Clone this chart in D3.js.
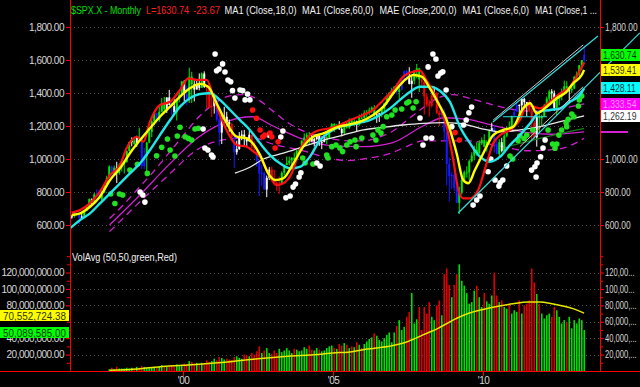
<!DOCTYPE html>
<html>
<head>
<meta charset="utf-8">
<script src="https://cdn.jsdelivr.net/npm/d3@7/dist/d3.min.js"></script>
<style>
  body { margin: 0; background: #000; }
  svg { display: block; font-family: "Liberation Sans", Arial, sans-serif; }
</style>
</head>
<body>
<div id="chart"></div>
<script>
// ---- data (monthly $SPX.X, Apr 1996 .. May 2013) ----
const startYear = 1996
const startMonth = 4

const closes = [
  654, 669, 671, 640, 652, 687, 705, 757, 741,                   // 1996
  786, 791, 757, 801, 848, 885, 954, 900, 947, 915, 955, 970,    // 1997
  980, 1049, 1102, 1112, 1091, 1134, 1121, 957, 1017, 1099, 1164, 1229,
  1280, 1238, 1286, 1335, 1302, 1373, 1329, 1320, 1283, 1363, 1389, 1469,
  1395, 1366, 1499, 1452, 1421, 1455, 1431, 1518, 1437, 1429, 1315, 1320,
  1366, 1240, 1160, 1249, 1256, 1224, 1211, 1134, 1041, 1060, 1140, 1148,
  1130, 1107, 1147, 1077, 1067, 990, 912, 916, 815, 886, 936, 880,
  856, 841, 848, 917, 964, 975, 990, 1008, 996, 1051, 1058, 1112,
  1131, 1145, 1126, 1107, 1121, 1141, 1102, 1104, 1115, 1130, 1174, 1212,
  1181, 1204, 1181, 1157, 1192, 1191, 1234, 1220, 1229, 1207, 1250, 1248,
  1280, 1281, 1295, 1311, 1270, 1270, 1277, 1304, 1336, 1378, 1401, 1418,
  1438, 1407, 1421, 1482, 1531, 1503, 1455, 1474, 1527, 1549, 1481, 1468,
  1379, 1331, 1323, 1386, 1400, 1280, 1267, 1283, 1166, 969, 896, 903,
  826, 735, 798, 873, 919, 919, 987, 1021, 1057, 1036, 1096, 1115,
  1074, 1104, 1169, 1187, 1089, 1031, 1102, 1049, 1141, 1183, 1181, 1258,
  1286, 1327, 1326, 1364, 1345, 1321, 1292, 1219, 1131, 1253, 1247, 1258,
  1312, 1366, 1409, 1398, 1310, 1362, 1379, 1407, 1441, 1412, 1416, 1426,
  1498, 1515, 1569, 1598, 1631                                    // 2013
]

const highs = [
  660, 674, 673, 672, 671, 690, 714, 762, 762,
  794, 817, 814, 805, 851, 899, 962, 961, 960, 983, 974, 986,
  992, 1051, 1106, 1131, 1124, 1141, 1190, 1121, 1067, 1103, 1193, 1245,
  1280, 1277, 1317, 1370, 1376, 1373, 1419, 1350, 1362, 1364, 1408, 1473,
  1478, 1445, 1553, 1528, 1481, 1475, 1518, 1525, 1531, 1436, 1432, 1390,
  1383, 1376, 1267, 1269, 1316, 1286, 1239, 1219, 1136, 1111, 1163, 1173,
  1176, 1130, 1173, 1147, 1107, 1070, 994, 965, 925, 900, 951, 954,
  935, 865, 895, 925, 965, 1015, 1015, 1011, 1040, 1054, 1063, 1112,
  1155, 1159, 1163, 1151, 1128, 1146, 1141, 1110, 1132, 1142, 1188, 1217,
  1218, 1213, 1229, 1192, 1199, 1219, 1246, 1246, 1243, 1233, 1270, 1276,
  1295, 1297, 1311, 1318, 1326, 1284, 1280, 1307, 1341, 1389, 1407, 1432,
  1441, 1461, 1439, 1499, 1535, 1540, 1556, 1504, 1539, 1576, 1552, 1523,
  1471, 1396, 1359, 1397, 1440, 1405, 1293, 1313, 1304, 1167, 1008, 919,
  944, 877, 832, 889, 930, 956, 997, 1040, 1081, 1102, 1113, 1130,
  1150, 1113, 1180, 1220, 1205, 1131, 1120, 1129, 1150, 1196, 1228, 1263,
  1303, 1345, 1332, 1364, 1371, 1346, 1357, 1307, 1230, 1292, 1278, 1269,
  1334, 1378, 1420, 1423, 1415, 1364, 1392, 1427, 1475, 1471, 1434, 1448,
  1504, 1530, 1570, 1598, 1687
]

const lows = [
  638, 645, 662, 605, 639, 649, 684, 703, 722,
  737, 773, 756, 733, 793, 836, 883, 893, 900, 855, 905, 926,
  912, 980, 1046, 1077, 1085, 1074, 1114, 940, 940, 923, 1096, 1133,
  1205, 1211, 1225, 1283, 1281, 1279, 1326, 1268, 1268, 1233, 1343, 1387,
  1350, 1325, 1339, 1339, 1349, 1420, 1416, 1430, 1431, 1305, 1307, 1254,
  1275, 1228, 1082, 1091, 1233, 1203, 1165, 1124, 945, 1026, 1055, 1114,
  1081, 1075, 1106, 1063, 1049, 953, 776, 838, 815, 769, 873, 872,
  840, 807, 789, 847, 902, 963, 962, 961, 990, 994, 1031, 1053,
  1106, 1123, 1087, 1105, 1076, 1113, 1079, 1060, 1101, 1090, 1127, 1171,
  1164, 1180, 1176, 1137, 1146, 1188, 1183, 1201, 1201, 1168, 1202, 1245,
  1245, 1253, 1268, 1280, 1245, 1219, 1224, 1253, 1290, 1327, 1360, 1385,
  1403, 1389, 1364, 1416, 1476, 1484, 1452, 1371, 1452, 1489, 1406, 1435,
  1270, 1317, 1257, 1312, 1373, 1272, 1200, 1248, 1107, 840, 741, 818,
  805, 735, 667, 784, 867, 888, 869, 979, 992, 1020, 1030, 1086,
  1071, 1045, 1105, 1170, 1040, 1029, 1011, 1040, 1039, 1131, 1173, 1186,
  1257, 1289, 1249, 1295, 1311, 1258, 1283, 1102, 1115, 1075, 1159, 1203,
  1259, 1312, 1341, 1358, 1291, 1267, 1325, 1355, 1397, 1403, 1344, 1399,
  1426, 1485, 1501, 1537, 1582
]

// bar paint: g green, r red, b blue, w white
const barColorCodes = [
  'wgwbwgggw',
  'gbbggggbgwgg', 'gggwgwgbbggg', 'gbgggwwbwggg', 'wbggwwwgwrrr',
  'wbbwwwwrbwww', 'wwwrrbbbbwwr', 'rrrggggggggg', 'gggwwwwwwggg',
  'ggwwgggggwgg', 'gggggwwggggg', 'gbgbbbwwgggr', 'rrrrwrrbbbbb',
  'bbgggggggggg', 'gggwbbgwgggg', 'bbwwwwrrrwgg', 'gggwwgggggwg',
  'ggggb'
]

// monthly volume in millions, Jul 1997 .. May 2013
const volStart = 15
const volumes = [
  2, 4, 2, 5, 3, 3,
  3, 4, 3, 4, 3, 5, 4, 6, 5, 4, 5, 4,
  5, 4, 6, 7, 6, 5, 6, 7, 5, 8, 6, 7,
  9, 8, 12, 11, 9, 10, 8, 10, 9, 13, 11, 12,
  15, 13, 17, 16, 14, 15, 14, 13, 17, 18, 16, 15,
  20, 19, 18, 22, 20, 24, 30, 22, 25, 28, 22, 21,
  25, 22, 27, 23, 25, 28, 25, 22, 27, 26, 24, 25,
  29, 27, 31, 26, 25, 28, 26, 24, 25, 28, 30, 31,
  28, 27, 33, 31, 34, 32, 28, 30, 29, 35, 32, 28,
  33, 36, 39, 41, 46, 43, 38, 36, 40, 44, 47, 35,
  47, 55, 62, 50, 54, 66, 72, 95, 58, 63, 78, 50,
  78, 70, 84, 66, 62, 80, 86, 68, 118, 125, 105, 90,
  105, 118, 130, 110, 104, 95, 82, 84, 98, 104, 90, 78,
  95, 85, 82, 92, 120, 92, 84, 86, 78, 76, 82, 70,
  74, 72, 86, 70, 80, 82, 86, 125, 108, 94, 82, 70,
  64, 68, 70, 66, 78, 74, 66, 58, 62, 60, 66, 52,
  62, 58, 64, 62, 50
]

// VolAvg(50) line: [year, millions]
const volAvgLine = [
  [1997.55, 1], [1998.5, 2.5], [1999.2, 5], [2000.0, 7], [2001.5, 11],
  [2002.5, 15], [2003.5, 18], [2004.5, 20], [2005.0, 22], [2005.5, 23],
  [2006.0, 26], [2007.0, 31], [2007.5, 36], [2008.0, 44], [2008.5, 52],
  [2009.0, 62], [2009.5, 70], [2010.0, 75], [2010.5, 79], [2011.0, 82],
  [2011.5, 84], [2011.9, 84], [2012.3, 82], [2012.7, 79], [2013.0, 76],
  [2013.37, 70.55]
]

// moving average lines: [year, value]
const redLine = [
  [1996.29, 675], [1996.57, 691], [1996.9, 733], [1997.23, 802], [1997.57, 903],
  [1997.9, 964], [1998.12, 1065], [1998.46, 1135], [1998.68, 1105], [1998.9, 1226],
  [1999.23, 1327], [1999.57, 1347], [1999.9, 1418], [2000.18, 1489], [2000.46, 1479],
  [2000.79, 1479], [2001.01, 1378], [2001.23, 1267], [2001.57, 1135], [2001.79, 1085],
  [2002.12, 1075], [2002.35, 1045], [2002.57, 1014], [2002.9, 893], [2003.12, 842],
  [2003.34, 853], [2003.62, 913], [2003.9, 1055], [2004.18, 1135], [2004.57, 1176],
  [2004.9, 1186], [2005.23, 1206], [2005.57, 1236], [2006.01, 1267], [2006.34, 1297],
  [2006.68, 1358], [2007.01, 1418], [2007.34, 1499], [2007.68, 1529], [2007.9, 1535],
  [2008.12, 1475], [2008.46, 1362], [2008.79, 1196], [2009.01, 994], [2009.18, 812],
  [2009.34, 762], [2009.57, 762], [2009.84, 812], [2010.12, 974], [2010.34, 1095],
  [2010.57, 1145], [2010.9, 1176], [2011.23, 1236], [2011.46, 1327], [2011.68, 1317],
  [2011.9, 1307], [2012.23, 1347], [2012.57, 1398], [2012.9, 1438], [2013.12, 1499],
  [2013.37, 1584]
]

const yellowLine = [
  [1996.29, 661], [1996.57, 671], [1996.9, 711], [1997.23, 772], [1997.57, 873],
  [1997.9, 944], [1998.23, 1035], [1998.57, 1115], [1998.9, 1186], [1999.23, 1256],
  [1999.57, 1317], [1999.9, 1378], [2000.23, 1428], [2000.57, 1455], [2000.84, 1438],
  [2001.12, 1338], [2001.46, 1216], [2001.79, 1135], [2002.12, 1125], [2002.35, 1090],
  [2002.57, 1024], [2002.84, 913], [2003.07, 873], [2003.34, 883], [2003.68, 974],
  [2004.01, 1075], [2004.34, 1135], [2004.68, 1155], [2005.12, 1192], [2005.46, 1206],
  [2005.9, 1226], [2006.34, 1267], [2006.68, 1317], [2007.01, 1398], [2007.34, 1469],
  [2007.68, 1509], [2007.96, 1499], [2008.23, 1428], [2008.51, 1338], [2008.79, 1236],
  [2008.9, 1176], [2009.12, 1035], [2009.34, 873], [2009.51, 853], [2009.73, 933],
  [2010.01, 1035], [2010.34, 1145], [2010.68, 1176], [2011.01, 1196], [2011.34, 1307],
  [2011.57, 1338], [2011.79, 1277], [2012.12, 1317], [2012.46, 1368], [2012.79, 1408],
  [2013.01, 1459], [2013.29, 1509], [2013.37, 1539]
]

const cyanLine = [
  [1996.23, 580], [1996.57, 630], [1996.9, 671], [1997.23, 731], [1997.57, 792],
  [1997.9, 853], [1998.23, 913], [1998.57, 974], [1998.9, 1055], [1999.23, 1145],
  [1999.57, 1236], [1999.9, 1317], [2000.23, 1368], [2000.57, 1394], [2000.9, 1398],
  [2001.23, 1358], [2001.57, 1297], [2001.9, 1236], [2002.23, 1176], [2002.57, 1095],
  [2002.9, 1024], [2003.23, 974], [2003.57, 944], [2003.9, 953], [2004.23, 1014],
  [2004.57, 1115], [2004.9, 1165], [2005.23, 1196], [2005.57, 1206], [2005.9, 1220],
  [2006.23, 1236], [2006.57, 1267], [2006.9, 1307], [2007.23, 1358], [2007.57, 1408],
  [2007.9, 1438], [2008.23, 1438], [2008.57, 1412], [2008.9, 1345], [2009.23, 1196],
  [2009.57, 1095], [2009.9, 1014], [2010.23, 983], [2010.57, 1014], [2010.9, 1085],
  [2011.23, 1145], [2011.57, 1216], [2011.9, 1287], [2012.23, 1297], [2012.57, 1307],
  [2012.9, 1347], [2013.23, 1388], [2013.37, 1428]
]

const whiteLine = [
  [2001.73, 915], [2002.23, 950], [2002.68, 1000], [2003.34, 1035], [2004.01, 1075],
  [2004.68, 1115], [2005.34, 1145], [2006.01, 1176], [2006.68, 1192], [2007.34, 1206],
  [2008.01, 1216], [2008.68, 1220], [2009.23, 1215], [2009.9, 1186], [2010.57, 1165],
  [2011.23, 1176], [2011.9, 1196], [2012.57, 1226], [2013.37, 1262]
]

// MAE envelope
const maeUpper = [
  [1997.55, 640], [1998.0, 720], [1998.5, 820], [1999.0, 920], [1999.5, 1030],
  [2000.0, 1140], [2000.5, 1250], [2001.0, 1330], [2001.5, 1380], [2002.0, 1390],
  [2002.5, 1360], [2003.0, 1290], [2003.5, 1220], [2004.0, 1170], [2004.5, 1140],
  [2005.0, 1120], [2005.5, 1110], [2006.0, 1110], [2006.5, 1130], [2007.0, 1170],
  [2007.5, 1240], [2008.0, 1310], [2008.5, 1370], [2009.0, 1390], [2009.5, 1370],
  [2010.0, 1345], [2010.5, 1320], [2011.0, 1300], [2011.5, 1290], [2012.0, 1290],
  [2012.5, 1300], [2013.0, 1320], [2013.37, 1333.54]
]
const maeMid = [
  [1997.55, 600], [1998.5, 770], [1999.5, 960], [2000.5, 1130], [2001.5, 1230],
  [2002.3, 1256], [2003.0, 1200], [2004.0, 1120], [2005.0, 1080], [2006.0, 1075],
  [2007.0, 1100], [2008.0, 1200], [2008.7, 1250], [2009.5, 1240], [2010.5, 1196],
  [2011.5, 1160], [2012.3, 1150], [2013.37, 1165]
]
const maeLower = [
  [1997.55, 560], [1998.5, 730], [1999.5, 900], [2000.5, 1060], [2001.5, 1120],
  [2002.3, 1130], [2003.0, 1090], [2004.0, 1050], [2005.0, 1000], [2005.5, 990],
  [2006.0, 1000], [2007.0, 1040], [2007.5, 1080], [2008.0, 1110], [2009.5, 1110],
  [2010.5, 1080], [2011.5, 1050], [2012.5, 1060], [2013.37, 1125]
]

const darkGreenLine = [[2010.9, 1079], [2012.0, 1130], [2013.37, 1186]]

// drawn trend lines: [[year, value], [year, value]]
const cyanTrends = [
  [[2009.17, 673], [2015.23, 1764]],
  [[2010.33, 1224], [2013.83, 1745]]
]
const grayTrends = [
  [[2010.34, 1236], [2013.34, 1691]],
  [[2011.23, 1075], [2013.34, 1438]]
]
const cyanLevel = [[2010.67, 1256], [2012.13, 1256]]

// dots: [year, value]
const greenDots = [
  [1997.59, 788], [1997.73, 731], [1997.88, 788], [1997.99, 782], [1998.23, 933],
  [1998.48, 968], [1998.81, 913], [1999.12, 1020], [1999.29, 1071], [1999.48, 1121],
  [1999.57, 1055], [1999.73, 1018], [1999.81, 1139], [1999.9, 1192], [2000.07, 1135],
  [2000.18, 1125], [2000.29, 1115], [2000.4, 1182], [2000.51, 1186],
  [2003.99, 1006], [2004.07, 976], [2004.33, 970], [2004.79, 1024], [2004.83, 1006],
  [2004.96, 1075], [2005.1, 1085], [2005.23, 1067], [2005.32, 1045], [2005.46, 1085],
  [2005.57, 1105], [2005.73, 1115], [2005.77, 1075], [2005.96, 1127], [2006.33, 1145],
  [2006.43, 1115], [2006.5, 1176], [2006.6, 1157], [2006.67, 1196], [2006.79, 1256],
  [2006.96, 1267], [2007.07, 1297], [2007.29, 1303], [2007.46, 1339], [2007.53, 1347],
  [2007.67, 1309], [2007.77, 1347],
  [2010.9, 1018], [2010.99, 1000], [2011.17, 1111], [2011.23, 1139], [2011.37, 1124],
  [2011.46, 1145], [2011.66, 1176], [2012.17, 1176], [2012.32, 1091], [2012.4, 1065],
  [2012.46, 1091], [2012.53, 1145], [2012.62, 1176], [2012.77, 1220], [2012.79, 1196],
  [2012.84, 1240], [2012.96, 1273], [2013.03, 1256], [2013.18, 1321], [2013.21, 1358],
  [2013.29, 1382]
]

const whiteDots = [
  [1998.57, 800], [1998.66, 782], [1998.73, 739],
  [2000.67, 1182], [2000.73, 1067], [2000.83, 1055], [2000.95, 1024], [2001.0, 1012],
  [2001.07, 1636], [2001.12, 1535], [2001.2, 1545], [2001.32, 1576], [2001.4, 1527],
  [2001.5, 1479], [2001.59, 1468], [2001.65, 1414], [2001.73, 1370], [2001.9, 1418],
  [2001.99, 1414], [2002.07, 1358], [2002.15, 1394], [2002.23, 1358],
  [2002.87, 1145], [2003.26, 1133], [2003.33, 1170],
  [2003.43, 765], [2003.57, 776], [2003.67, 830], [2003.75, 848], [2003.87, 891],
  [2003.93, 917], [2004.46, 976], [2004.57, 958],
  [2007.9, 1248], [2008.0, 1085], [2008.1, 1127], [2008.17, 1558], [2008.29, 1127],
  [2008.33, 1636], [2008.43, 1606], [2008.5, 1503], [2008.59, 1521], [2008.66, 1529],
  [2008.77, 1418], [2008.96, 1196],
  [2009.35, 1206], [2009.44, 1236], [2009.53, 1280], [2009.62, 1315],
  [2009.67, 721], [2009.79, 752], [2009.9, 776], [2010.17, 923], [2010.26, 1000],
  [2010.4, 873], [2010.53, 836], [2010.57, 856], [2010.66, 873], [2010.79, 958],
  [2011.62, 933], [2011.73, 953], [2011.77, 891], [2011.8, 976], [2011.92, 1014],
  [2012.0, 1067], [2012.07, 1115]
]

const redDots = [
  [2002.32, 1297], [2002.45, 1247], [2002.57, 1176], [2002.66, 1135], [2002.73, 1145],
  [2002.9, 1157], [2002.96, 1135], [2003.07, 1067], [2003.17, 1105],
  [2009.07, 1160], [2009.21, 1115]
]

// axis ticks and labels
const priceTicks = [600, 800, 1000, 1200, 1400, 1600, 1800]
const priceTicksRight = [600, 800, 1000, 1800]
const volTicks = [20e6, 40e6, 60e6, 80e6, 100e6, 120e6]
const volTicksLeft = [20e6, 40e6, 80e6, 100e6, 120e6]
const volMinorTicks = [10e6, 30e6, 50e6, 70e6, 90e6, 110e6, 130e6, 140e6]
const yearTicks = [2000, 2005, 2010]

// title pieces with their measured left edge and width
const titleParts = [
  { text: '$SPX.X - Monthly', color: '#00e000', x: 71, w: 70 },
  { text: 'L=1630.74', color: '#ff2020', x: 146, w: 43 },
  { text: '-23.67', color: '#ff2020', x: 193, w: 27 },
  { text: 'MA1 (Close,18,0)', color: '#f0f0f0', x: 224.5, w: 72 },
  { text: 'MA1 (Close,60,0)', color: '#f0f0f0', x: 302, w: 71.5 },
  { text: 'MAE (Close,200,0)', color: '#f0f0f0', x: 379.5, w: 77 },
  { text: 'MA1 (Close,6,0)', color: '#f0f0f0', x: 462.5, w: 66.5 },
  { text: 'MA1 (Close,1 ...', color: '#f0f0f0', x: 535, w: 62 }
]

const priceMarkers = [
  { value: 1630.74, fill: '#00ff00', text: '#003300' },
  { value: 1539.41, fill: '#ffff00', text: '#333300' },
  { value: 1428.11, fill: '#00ffff', text: '#003333' },
  { value: 1333.54, fill: '#ff00ff', text: '#ff99ff' },
  { value: 1262.19, fill: '#ffffff', text: '#333333' }
]
const volMarkers = [
  { value: 70552724.38, fill: '#ffff00', text: '#333300' },
  { value: 50089585.00, fill: '#00ff00', text: '#003300' }
]

// ---- drawing ----
const width = 640
const height = 387
const barColor = { g: '#00e800', r: '#ff0000', b: '#1a1aff', w: '#ffffff' }
const codes = barColorCodes.join('')
const monthT = i => startYear + (startMonth - 1 + i + 0.5) / 12

let x = d3.scaleLinear().domain([1996.2333, 2013.9]).range([70, 600])
let y = d3.scaleLinear().domain([455, 1842]).range([249, 20])
let yv = d3.scaleLinear().domain([0, 147.5e6]).range([371, 250])

let svg = d3.select('#chart').append('svg')
  .attr('width', width)
  .attr('height', height)
  .style('background', '#000')

svg.append('defs').append('clipPath').attr('id', 'plot')
  .append('rect').attr('x', 70).attr('y', 18).attr('width', 530).attr('height', 232)

// Dotted grid
svg.append('g').selectAll('line')
  .data(priceTicks)
  .enter().append('line')
  .attr('x1', 70).attr('x2', 600)
  .attr('y1', d => Math.round(y(d)) + 0.5).attr('y2', d => Math.round(y(d)) + 0.5)
  .attr('stroke', '#505050').attr('stroke-dasharray', '1,3')

svg.append('g').selectAll('line')
  .data(volTicks)
  .enter().append('line')
  .attr('x1', 70).attr('x2', 600)
  .attr('y1', d => Math.round(yv(d)) + 0.5).attr('y2', d => Math.round(yv(d)) + 0.5)
  .attr('stroke', '#505050').attr('stroke-dasharray', '1,3')

let plot = svg.append('g').attr('clip-path', 'url(#plot)')

let lineGen = d3.line()
  .x(d => x(d[0]))
  .y(d => y(d[1]))
  .curve(d3.curveMonotoneX)

// MAE envelope
plot.append('path').datum(maeMid).attr('d', lineGen)
  .attr('fill', 'none').attr('stroke', '#d020d0').attr('stroke-width', 1.3)
plot.selectAll('.mae')
  .data([maeUpper, maeLower])
  .enter().append('path')
  .attr('d', lineGen)
  .attr('fill', 'none').attr('stroke', '#d020d0').attr('stroke-width', 1.3)
  .attr('stroke-dasharray', '7,5')

// Price bars
let bars = closes.map((c, i) => ({
  t: monthT(i),
  open: i > 0 ? closes[i - 1] : 645,
  close: c,
  high: highs[i],
  low: lows[i],
  color: barColor[codes[i]]
}))

plot.append('g').selectAll('line')
  .data(bars)
  .enter().append('line')
  .attr('x1', d => x(d.t)).attr('x2', d => x(d.t))
  .attr('y1', d => y(d.high)).attr('y2', d => y(d.low))
  .attr('stroke', d => d.color).attr('stroke-width', 1)

plot.append('g').selectAll('rect')
  .data(bars)
  .enter().append('rect')
  .attr('x', d => x(d.t) - 1)
  .attr('width', 2)
  .attr('y', d => y(Math.max(d.open, d.close)))
  .attr('height', d => Math.max(1, Math.abs(y(d.open) - y(d.close))))
  .attr('fill', d => d.color)

// White MA and dark green line
plot.append('path').datum(whiteLine).attr('d', lineGen)
  .attr('fill', 'none').attr('stroke', '#e8e8e8').attr('stroke-width', 1.3)
plot.append('path').datum(darkGreenLine).attr('d', lineGen)
  .attr('fill', 'none').attr('stroke', '#1e7a1e').attr('stroke-width', 1.3)

// Dots
let drawDots = function (data, fill) {
  plot.append('g').selectAll('circle')
    .data(data)
    .enter().append('circle')
    .attr('cx', d => x(d[0]))
    .attr('cy', d => y(d[1]))
    .attr('r', 2.8)
    .attr('fill', fill)
}
drawDots(greenDots, '#22e022')
drawDots(whiteDots, '#ffffff')
drawDots(redDots, '#ff1010')

// Short moving averages
let drawLine = function (data, stroke, w) {
  plot.append('path').datum(data).attr('d', lineGen)
    .attr('fill', 'none').attr('stroke', stroke).attr('stroke-width', w)
    .attr('stroke-linejoin', 'round')
}
drawLine(cyanLine, '#20e8e8', 2.4)
drawLine(redLine, '#ff1010', 2.2)
drawLine(yellowLine, '#ffff00', 2.4)

// Trend lines (straight)
let straight = d3.line().x(d => x(d[0])).y(d => y(d[1]))
svg.append('g').selectAll('path')
  .data(grayTrends)
  .enter().append('path')
  .attr('d', straight).attr('stroke', '#c8c8c8').attr('stroke-width', 1).attr('fill', 'none')
svg.append('g').selectAll('path')
  .data(cyanTrends)
  .enter().append('path')
  .attr('d', straight).attr('stroke', '#30e0e0').attr('stroke-width', 1.2).attr('fill', 'none')
plot.append('path').datum(cyanLevel).attr('d', straight)
  .attr('stroke', '#30e0e0').attr('stroke-width', 1.2)

// Volume bars
let vols = volumes.map((v, i) => {
  let k = i + volStart
  return { t: monthT(k), v: v * 1e6, up: closes[k] >= closes[k - 1] }
})
svg.append('g').selectAll('rect')
  .data(vols)
  .enter().append('rect')
  .attr('x', d => x(d.t) - 0.8)
  .attr('width', 1.6)
  .attr('y', d => yv(d.v))
  .attr('height', d => yv(0) - yv(d.v))
  .attr('fill', d => d.up ? '#00e000' : '#e00000')

svg.append('path').datum(volAvgLine)
  .attr('d', d3.line().x(d => x(d[0])).y(d => yv(d[1] * 1e6)).curve(d3.curveMonotoneX))
  .attr('fill', 'none').attr('stroke', '#e8e800').attr('stroke-width', 1.5)

// Axes
let styleAxis = function (g, squeeze) {
  g.select('.domain').remove()
  g.selectAll('.tick line').attr('stroke', '#ff0000')
  let t = g.selectAll('.tick text').attr('fill', '#d8d8d8')
    .style('font-size', '10px')
  if (squeeze) {
    // right-hand labels are squeezed into the 40px margin
    t.attr('x', 0).attr('transform', `translate(5,0) scale(${squeeze},1)`)
  } else {
    t.style('letter-spacing', '-0.5px')
  }
}

svg.append('g')
  .attr('transform', 'translate(70,0)')
  .call(d3.axisLeft(y).tickValues(priceTicks).tickFormat(d3.format(',.2f')).tickSize(4).tickPadding(2))
  .call(styleAxis)

svg.append('g')
  .attr('transform', 'translate(600,0)')
  .call(d3.axisRight(y).tickValues(priceTicksRight).tickFormat(d3.format(',.2f')).tickSize(4).tickPadding(1))
  .call(styleAxis, 0.84)

svg.append('g')
  .attr('transform', 'translate(70,0)')
  .call(d3.axisLeft(yv).tickValues(volTicksLeft).tickFormat(d3.format(',.2f')).tickSize(4).tickPadding(2))
  .call(styleAxis)

svg.append('g')
  .attr('transform', 'translate(600,0)')
  .call(d3.axisRight(yv).tickValues(volTicks)
    .tickFormat(d => d3.format(',.2f')(d).slice(0, d >= 1e8 ? 6 : 7) + '...')
    .tickSize(4).tickPadding(1))
  .call(styleAxis, 0.76)

svg.append('g')
  .attr('transform', 'translate(70,0)')
  .call(d3.axisLeft(yv).tickValues(volMinorTicks.concat([60e6])).tickFormat('').tickSize(3))
  .call(styleAxis)
svg.append('g')
  .attr('transform', 'translate(600,0)')
  .call(d3.axisRight(yv).tickValues(volMinorTicks).tickFormat('').tickSize(3))
  .call(styleAxis)

svg.append('g')
  .attr('transform', 'translate(0,371)')
  .call(d3.axisBottom(x).tickValues(yearTicks)
    .tickFormat(d => "'" + String(d % 100).padStart(2, '0')).tickSize(5).tickPadding(1))
  .call(styleAxis)

// Frame lines
svg.append('line').attr('x1', 70.5).attr('x2', 70.5).attr('y1', 0).attr('y2', 372)
  .attr('stroke', '#ff0000')
svg.append('line').attr('x1', 600.5).attr('x2', 600.5).attr('y1', 0).attr('y2', 372)
  .attr('stroke', '#ff0000')
svg.append('line').attr('x1', 0).attr('x2', 640).attr('y1', 371.5).attr('y2', 371.5)
  .attr('stroke', '#ff0000')

// Title
svg.append('g').selectAll('text')
  .data(titleParts)
  .enter().append('text')
  .attr('x', d => d.x).attr('y', 14)
  .attr('fill', d => d.color)
  .attr('textLength', d => d.w)
  .attr('lengthAdjust', 'spacingAndGlyphs')
  .style('font-size', '10px')
  .text(d => d.text)

svg.append('text')
  .attr('x', 72).attr('y', 261)
  .attr('fill', '#f0f0f0')
  .attr('textLength', 105)
  .attr('lengthAdjust', 'spacingAndGlyphs')
  .style('font-size', '10px')
  .text('VolAvg (50,50,green,Red)')

// Value markers
let marker = svg.append('g')
marker.append('rect').attr('x', 601).attr('y', 131).attr('width', 27).attr('height', 2)
  .attr('fill', '#d020d0')

let pm = marker.selectAll('.pm')
  .data(priceMarkers)
  .enter().append('g')
  .attr('transform', d => `translate(601, ${Math.round(y(d.value)) - 6})`)
pm.append('rect').attr('width', 39).attr('height', 12).attr('fill', d => d.fill)
pm.append('text')
  .attr('transform', 'translate(2,10) scale(0.86,1)')
  .attr('fill', d => d.text)
  .style('font-size', '10px')
  .text(d => d3.format(',.2f')(d.value))

let vm = marker.selectAll('.vm')
  .data(volMarkers)
  .enter().append('g')
  .attr('transform', d => `translate(0, ${Math.round(yv(d.value)) - 3})`)
vm.append('rect').attr('width', 69).attr('height', 11).attr('fill', d => d.fill)
vm.append('text').attr('x', 3).attr('y', 9.5)
  .attr('fill', d => d.text)
  .attr('textLength', 63)
  .attr('lengthAdjust', 'spacingAndGlyphs')
  .style('font-size', '10px')
  .text(d => d3.format(',.2f')(d.value))
</script>
</body>
</html>
